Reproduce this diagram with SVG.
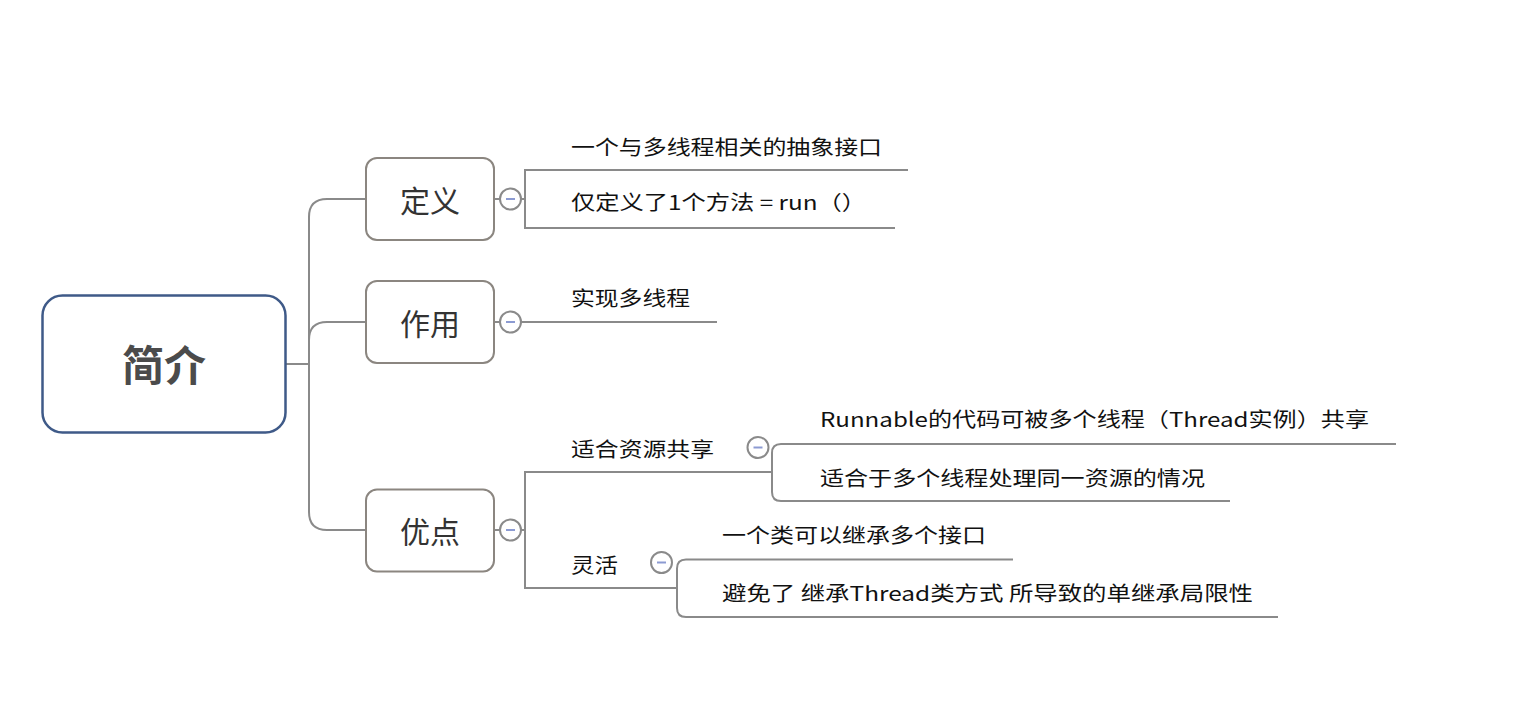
<svg xmlns="http://www.w3.org/2000/svg" width="1530" height="720" viewBox="0 0 1530 720">
<style>
.conn{fill:none;stroke:#8a8a8a;stroke-width:2}
.box{fill:#fff;stroke:#8b8680;stroke-width:2}
.root{fill:#fff;stroke:#3f5a88;stroke-width:2.5}
.col{fill:#fff;stroke:#8a8a8a;stroke-width:2}
.minus{stroke:#8c9bd2;stroke-width:2}
.t{font-family:"Noto Sans CJK SC","Liberation Sans",sans-serif}
.leaf{font-size:20px;fill:#111}
.br{font-size:30px;fill:#333;text-anchor:middle}
.rt{font-size:42px;font-weight:700;fill:#4b4b4b;text-anchor:middle}
</style>
<rect width="1530" height="720" fill="#fff"/>
<g id="connectors">
<path class="conn" d="M286 364 H309"/>
<path class="conn" d="M366 199 H327 Q309 199 309 217 V512 Q309 530 327 530 H366"/>
<path class="conn" d="M366 322 H327 Q309 322 309 340"/>
<path class="conn" d="M494 199 H500 M521 199 H525"/>
<path class="conn" d="M908 170 H525 V228 H895"/>
<path class="conn" d="M494 322 H500 M521 322 H717"/>
<path class="conn" d="M494 530 H500 M521 530 H525"/>
<path class="conn" d="M772 472 H525 V588 H677"/>
<path class="conn" d="M1396 444 H781 Q772 444 772 453 V492 Q772 501 781 501 H1230"/>
<path class="conn" d="M1013 559.5 H686 Q677 559.5 677 568.5 V608 Q677 617 686 617 H1278"/>
</g>
<g id="root">
<rect class="root" x="42.5" y="295.5" width="243" height="137" rx="20"/>
<text class="t rt" x="164" y="381">简介</text>
</g>
<g id="n-dingyi">
<rect class="box" x="366" y="158" width="128" height="82" rx="11"/>
<text class="t br" x="430" y="212">定义</text>
<circle class="col" cx="510.5" cy="199" r="10.5"/>
<line class="minus" x1="506" y1="199" x2="515" y2="199"/>
</g>
<g id="n-zuoyong">
<rect class="box" x="366" y="281" width="128" height="82" rx="11"/>
<text class="t br" x="430" y="335">作用</text>
<circle class="col" cx="510.5" cy="322" r="10.5"/>
<line class="minus" x1="506" y1="322" x2="515" y2="322"/>
</g>
<g id="n-youdian">
<rect class="box" x="366" y="489.5" width="128" height="82" rx="11"/>
<text class="t br" x="430" y="543">优点</text>
<circle class="col" cx="510.5" cy="530" r="10.5"/>
<line class="minus" x1="506" y1="530" x2="515" y2="530"/>
</g>
<g id="l-1">
<text class="t leaf" x="571" y="155" textLength="311" lengthAdjust="spacingAndGlyphs">一个与多线程相关的抽象接口</text>
</g>
<g id="l-2">
<text class="t leaf" x="571" y="210" textLength="295" lengthAdjust="spacingAndGlyphs">仅定义了1个方法 = run（）</text>
</g>
<g id="l-3">
<text class="t leaf" x="571" y="306" textLength="119" lengthAdjust="spacingAndGlyphs">实现多线程</text>
</g>
<g id="n-shihe">
<text class="t leaf" x="571" y="457" textLength="143" lengthAdjust="spacingAndGlyphs">适合资源共享</text>
<circle class="col" cx="758" cy="447.5" r="10.5"/>
<line class="minus" x1="753.5" y1="447.5" x2="762.5" y2="447.5"/>
</g>
<g id="l-4">
<text class="t leaf" x="820" y="427" textLength="549" lengthAdjust="spacingAndGlyphs">Runnable的代码可被多个线程（Thread实例）共享</text>
</g>
<g id="l-5">
<text class="t leaf" x="820" y="486" textLength="385" lengthAdjust="spacingAndGlyphs">适合于多个线程处理同一资源的情况</text>
</g>
<g id="n-linghuo">
<text class="t leaf" x="571" y="573" textLength="47" lengthAdjust="spacingAndGlyphs">灵活</text>
<circle class="col" cx="661.5" cy="562.5" r="10.5"/>
<line class="minus" x1="657" y1="562.5" x2="666" y2="562.5"/>
</g>
<g id="l-6">
<text class="t leaf" x="722" y="543" textLength="264" lengthAdjust="spacingAndGlyphs">一个类可以继承多个接口</text>
</g>
<g id="l-7">
<text class="t leaf" x="722" y="601" textLength="531" lengthAdjust="spacingAndGlyphs">避免了 继承Thread类方式 所导致的单继承局限性</text>
</g>
</svg>
